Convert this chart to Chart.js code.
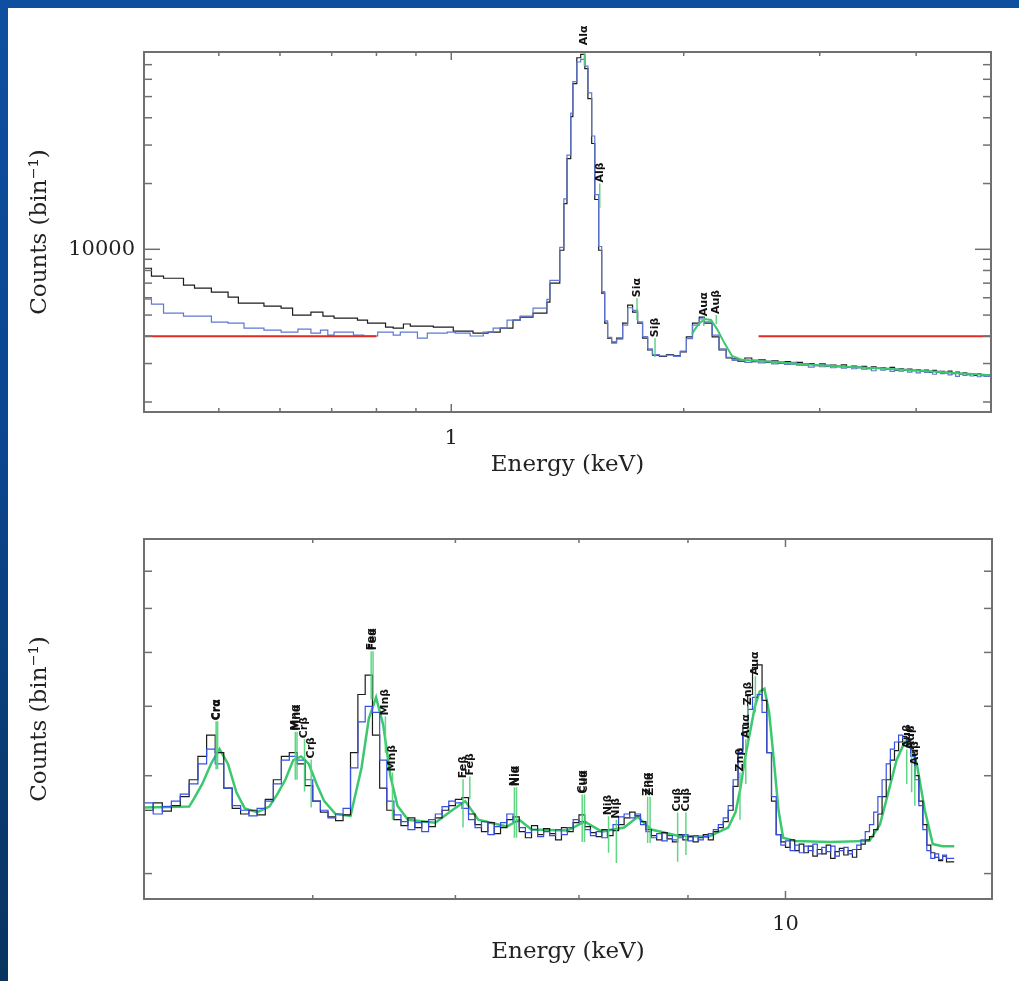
<!DOCTYPE html>
<html>
<head>
<meta charset="utf-8">
<title>Energy spectra</title>
<script src="https://cdn.jsdelivr.net/npm/chart.js@4.4.1/dist/chart.umd.min.js"></script>
<style>
  html, body { margin: 0; padding: 0; }
  body {
    width: 1019px; height: 981px; overflow: hidden; position: relative;
    background: linear-gradient(180deg, #0e4fa0 0%, #0b4690 45%, #08345f 100%);
  }
  #sheet { position: absolute; left: 8px; top: 8px; width: 1011px; height: 973px; background: #fff; }
  canvas { position: absolute; left: 0; }
  #upper { top: 0; }
  #lower { top: 480px; }
</style>
</head>
<body>
<div id="sheet">
  <canvas id="upper" width="1011" height="480"></canvas>
  <canvas id="lower" width="1011" height="493"></canvas>
</div>
<script>
// ---------- upper panel: 0.4 - 5 keV ----------
const upperBlackE = [0.400,0.409,0.424,0.450,0.465,0.489,0.514,0.530,0.572,0.602,
  0.623,0.658,0.682,0.705,0.756,0.779,0.822,0.841,0.867,0.885,
  0.948,1.006,1.067,1.116,1.157,1.202,1.228,1.276,1.330,1.342,
  1.382,1.399,1.412,1.428,1.437,1.454,1.471,1.489,1.503,1.520,
  1.534,1.552,1.566,1.580,1.594,1.613,1.637,1.667,1.692,1.717,
  1.743,1.769,1.796,1.822,1.860,1.900,1.940,1.980,2.016,2.053,
  2.095,2.126,2.177,2.222,2.270,2.311];
const upperBlackC = [8910,8190,7530,7370,6850,6640,6370,6040,5670,5490,
  5380,5000,5160,4940,4840,4740,4590,4400,4360,4550,
  4450,4400,4220,4130,4180,4360,4740,4890,5100,5730,
  7000,9900,16200,26000,40500,57300,75300,78000,67100,48900,
  30500,16900,9900,6300,4590,3920,3760,3920,4590,5550,
  5160,4590,3920,3460,3280,3230,3300,3250,3390,3970,
  4590,4890,4590,3970,3460,3180];

const upperBlueE = [0.400,0.409,0.424,0.450,0.489,0.514,0.539,0.572,0.602,0.633,
  0.658,0.677,0.692,0.705,0.747,0.770,0.803,0.841,0.859,0.904,
  0.931,0.988,1.012,1.058,1.100,1.133,1.181,1.228,1.276,1.330,
  1.342,1.382,1.399,1.412,1.428,1.437,1.454,1.471,1.489,1.503,
  1.520,1.534,1.552,1.566,1.580,1.594,1.613,1.637,1.667,1.692,
  1.717,1.743,1.769,1.796,1.822,1.860,1.900,1.940,1.980,2.016,
  2.053,2.095,2.126,2.177,2.222,2.270,2.311];
const upperBlueC = [6040,5910,5610,5100,4940,4640,4590,4360,4270,4180,
  4310,4130,4270,4050,4180,4050,4010,4180,4050,4180,
  3920,4130,4180,4130,4010,4180,4360,4740,4940,5380,
  5900,7200,10200,17000,27000,42000,58500,72000,74000,69000,
  52000,33000,17800,10300,6400,4700,3950,3720,3880,4500,
  5400,5250,4650,3980,3500,3300,3250,3280,3230,3420,
  3900,4500,4800,4650,4050,3500,3200];

// finer bins above 2.35 keV, shared by both spectra
const upperTailE = [2.35,2.40,2.45,2.50,2.55,2.60,2.65,2.70,2.75,2.80,
  2.85,2.90,2.95,3.00,3.05,3.10,3.15,3.20,3.25,3.30,
  3.35,3.40,3.45,3.50,3.55,3.60,3.65,3.70,3.75,3.80,
  3.85,3.90,3.95,4.00,4.05,4.10,4.15,4.20,4.25,4.30,
  4.35,4.40,4.45,4.50,4.55,4.60,4.65,4.70,4.75,4.80,
  4.85,4.90,4.95];
const upperTailBlack = [3150,3080,3180,3060,3120,3040,3090,3010,3060,2990,
  3040,2960,3000,2930,2990,2920,2950,2900,2960,2880,
  2920,2870,2910,2840,2900,2850,2870,2820,2880,2800,
  2840,2790,2830,2780,2810,2760,2800,2740,2790,2730,
  2760,2720,2770,2700,2740,2690,2720,2670,2700,2650,
  2690,2640,2660];
const upperTailBlue = [3100,3130,3040,3110,3020,3080,2990,3050,2970,3040,
  2950,3000,2890,2960,2900,2950,2870,2930,2860,2900,
  2840,2900,2830,2870,2780,2860,2800,2850,2760,2830,
  2770,2820,2740,2800,2720,2790,2730,2770,2680,2760,
  2700,2740,2660,2720,2620,2700,2650,2690,2630,2680,
  2610,2650,2620];
const upperEnd = 5.0;

const upperModelE = [2.05,2.09,2.13,2.17,2.21,2.26,2.31,2.38,2.50,2.65,2.80,3.00,3.20,3.40,3.60,3.80,4.00,4.20,4.40,4.60,4.80,5.00];
const upperModelC = [4100,4550,4800,4750,4300,3700,3250,3120,3080,3040,2990,2950,2910,2880,2850,2820,2790,2760,2730,2700,2680,2650];

// energy bands ignored in the fit, drawn at a fixed level
const ignoredBands = [[0.4, 0.8], [2.5, 5.0]];
const ignoredLevel = 4000;

const upperLineNames = ['Alα', 'Alβ', 'Siα', 'Siβ', 'Auα', 'Auβ'];
const upperLineE     = [1.487, 1.557, 1.740, 1.836, 2.123, 2.204];
const upperLineTop   = [85000, 20000, 5970, 3920, 4890, 5000];
const upperLineBot   = [69000, 15500, 4740, 3210, 4450, 4550];

const upperXMinor = [0.5, 0.6, 0.7, 0.8, 0.9, 2, 3, 4];
const upperXMajor = [1];
const upperYMinor = [2000, 3000, 4000, 5000, 6000, 7000, 8000, 9000, 20000, 30000, 40000, 50000, 60000, 70000];
const upperYMajor = [10000];

// ---------- lower panel: 5 - 12.5 keV ----------
const lowerE = [5.00,5.05,5.10,5.15,5.20,5.25,5.30,5.35,5.40,5.45,
  5.50,5.55,5.60,5.65,5.70,5.75,5.80,5.85,5.90,5.95,
  6.00,6.05,6.10,6.15,6.20,6.25,6.30,6.35,6.40,6.45,
  6.50,6.55,6.60,6.65,6.70,6.75,6.80,6.85,6.90,6.95,
  7.00,7.05,7.10,7.15,7.20,7.25,7.30,7.35,7.40,7.45,
  7.50,7.55,7.60,7.65,7.70,7.75,7.80,7.85,7.90,7.95,
  8.00,8.05,8.10,8.15,8.20,8.25,8.30,8.35,8.40,8.45,
  8.50,8.55,8.60,8.65,8.70,8.75,8.80,8.85,8.90,8.95,
  9.00,9.05,9.10,9.15,9.20,9.25,9.30,9.35,9.40,9.45,
  9.50,9.55,9.60,9.65,9.70,9.75,9.80,9.85,9.90,9.95,
  10.00,10.05,10.10,10.15,10.20,10.25,10.30,10.35,10.40,10.45,
  10.50,10.55,10.60,10.65,10.70,10.75,10.80,10.85,10.90,10.95,
  11.00,11.05,11.10,11.15,11.20,11.25,11.30,11.35,11.40,11.45,
  11.50,11.55,11.60,11.65,11.70,11.75,11.80,11.85,11.90,11.95];
const lowerBlack = [2640,2600,2680,2590,2650,2750,2950,3250,3550,3300,
  2850,2620,2560,2600,2550,2720,2950,3250,3300,3150,
  2880,2700,2580,2530,2490,2550,3300,4200,4550,3550,
  2850,2600,2500,2440,2520,2420,2480,2430,2520,2600,
  2650,2720,2740,2560,2450,2380,2470,2360,2420,2500,
  2530,2380,2320,2440,2350,2410,2360,2300,2420,2380,
  2470,2550,2430,2370,2330,2400,2340,2390,2450,2520,
  2580,2540,2480,2400,2340,2300,2370,2310,2280,2350,
  2300,2330,2280,2320,2350,2300,2380,2420,2480,2600,
  2870,3350,3700,4200,4700,4750,4100,3300,2700,2350,
  2280,2230,2300,2200,2260,2180,2240,2150,2210,2170,
  2250,2130,2190,2220,2160,2200,2140,2210,2260,2300,
  2330,2400,2560,2750,2950,3200,3330,3450,3530,3480,
  3300,3000,2700,2450,2250,2180,2140,2110,2150,2100];
const lowerBlue = [2600,2680,2560,2640,2700,2780,2900,3150,3350,3150,
  2850,2650,2600,2540,2620,2700,2900,3200,3250,3200,
  2950,2700,2600,2520,2560,2620,3100,3750,4000,3900,
  3200,2700,2550,2480,2400,2470,2380,2500,2560,2640,
  2700,2680,2620,2500,2420,2480,2350,2430,2470,2560,
  2480,2420,2370,2400,2330,2380,2340,2400,2350,2420,
  2500,2480,2400,2340,2380,2320,2400,2450,2530,2560,
  2520,2560,2450,2380,2320,2360,2290,2340,2300,2320,
  2350,2290,2340,2300,2330,2360,2400,2450,2520,2650,
  2950,3300,3600,3950,4150,4200,3900,3300,2750,2350,
  2250,2290,2200,2250,2180,2240,2200,2260,2170,2230,
  2190,2240,2150,2200,2230,2170,2210,2250,2300,2380,
  2450,2580,2750,2950,3150,3350,3450,3550,3500,3380,
  3250,2950,2650,2400,2200,2130,2170,2120,2160,2130];
const lowerEnd = 12.0;

// fitted model, drawn beneath the two spectra
const lowerModelE = [5.00,5.25,5.275,5.325,5.375,5.425,5.475,5.525,5.575,5.65,
  5.725,5.775,5.825,5.875,5.925,5.975,6.025,6.075,6.15,6.25,
  6.325,6.375,6.425,6.475,6.525,6.575,6.65,6.85,6.975,7.075,
  7.175,7.40,7.50,7.60,7.90,8.05,8.20,8.40,8.525,8.65,
  8.90,9.20,9.40,9.475,9.525,9.575,9.625,9.675,9.725,9.775,
  9.825,9.875,9.925,9.975,10.10,10.50,10.95,11.075,11.175,11.275,
  11.375,11.425,11.525,11.625,11.725,11.85,12.00];
const lowerModelC = [2630,2640,2720,2900,3150,3350,3150,2800,2620,2580,
  2640,2780,2950,3200,3250,3150,2900,2700,2560,2540,
  3100,3800,4150,3700,3000,2650,2500,2470,2600,2700,
  2500,2430,2500,2400,2390,2480,2380,2420,2530,2400,
  2340,2330,2420,2580,2850,3250,3600,4000,4250,4300,
  3900,3200,2600,2320,2290,2280,2290,2450,2800,3200,
  3450,3480,3150,2600,2260,2240,2240];

const lowerLineNames = ['Crα','Crα','Mnα','Mnα','Crβ','Crβ','Feα','Feα','Mnβ','Mnβ','Feβ','Feβ','Niα','Niα',
  'Cuα','Cuα','Niβ','Niβ','Znα','Znα','Cuβ','Cuβ','Znβ','Auα','Znβ','Auα','Auβ','Auβ','Auβ'];
const lowerLineE   = [5.405,5.414,5.888,5.899,5.947,5.99,6.391,6.404,6.490,6.54,7.058,7.11,7.461,7.478,
  8.028,8.048,8.26,8.33,8.616,8.639,8.90,8.98,9.52,9.58,9.60,9.68,11.40,11.46,11.50];
const lowerLineTop = [3760,3760,3600,3600,3490,3210,5025,5025,3835,3040,2955,2990,2860,2860,
  2775,2775,2535,2500,2750,2750,2575,2575,3040,3490,4000,4530,3345,3330,3120];
const lowerLineBot = [3080,3080,2950,2950,2810,2630,4115,4115,3300,2500,2420,2720,2320,2320,
  2280,2280,2180,2090,2270,2270,2100,2160,2500,2900,3400,3900,2900,2800,2650];

const lowerXMinor = [6, 7, 8, 9];
const lowerXMajor = [10];
const lowerYMinor = [2000, 3000, 4000, 5000, 6000, 7000];
const lowerYMajor = [];

// ---------- helpers ----------
const tickFont = { family: '"DejaVu Serif", serif', size: 21 };
const titleFont = { family: '"DejaVu Serif", serif', size: 23 };
const inkColor = '#222';

function stepPoints(edges, counts, endEdge) {
  const pts = edges.map((e, i) => ({ x: e, y: counts[i] }));
  pts.push({ x: endEdge, y: counts[counts.length - 1] });
  return pts;
}

function linePoints(xs, ys) {
  return xs.map((e, i) => ({ x: e, y: ys[i] }));
}

function spikePoints(energies, tops, bottoms) {
  const pts = [];
  energies.forEach((e, i) => {
    pts.push({ x: e, y: tops[i] }, { x: e, y: bottoms[i] }, { x: e, y: null });
  });
  return pts;
}

function bandPoints(bands, level) {
  const pts = [];
  bands.forEach(([a, b]) => {
    pts.push({ x: a, y: level }, { x: b, y: level }, { x: b, y: null });
  });
  return pts;
}

// box around the plot with inward ticks on all four sides
function frameTicksPlugin(t) {
  return {
    id: 'frameTicks',
    afterDatasetsDraw(chart) {
      const { ctx, chartArea: a, scales: { x, y } } = chart;
      ctx.save();
      ctx.strokeStyle = '#707070';
      ctx.lineWidth = 1.5;
      const seg = (x0, y0, x1, y1) => { ctx.beginPath(); ctx.moveTo(x0, y0); ctx.lineTo(x1, y1); ctx.stroke(); };
      const xt = (vals, len) => vals.forEach(v => {
        const px = x.getPixelForValue(v);
        seg(px, a.bottom, px, a.bottom - len);
        seg(px, a.top, px, a.top + len);
      });
      const yt = (vals, len) => vals.forEach(v => {
        const py = y.getPixelForValue(v);
        seg(a.left, py, a.left + len, py);
        seg(a.right, py, a.right - len, py);
      });
      xt(t.xMinor, 4); xt(t.xMajor, 8);
      yt(t.yMinor, 8); yt(t.yMajor, 16);
      ctx.lineWidth = 2;
      ctx.strokeRect(a.left, a.top, a.right - a.left, a.bottom - a.top);
      ctx.restore();
    }
  };
}

// vertical line identifications
function lineLabelPlugin(names, energies, tops) {
  return {
    id: 'lineLabels',
    afterDatasetsDraw(chart) {
      const { ctx, scales: { x, y } } = chart;
      ctx.save();
      ctx.fillStyle = '#111';
      ctx.font = 'bold 11px "DejaVu Sans", sans-serif';
      ctx.textAlign = 'left';
      ctx.textBaseline = 'middle';
      names.forEach((name, i) => {
        ctx.save();
        ctx.translate(x.getPixelForValue(energies[i]), y.getPixelForValue(tops[i]) - 1);
        ctx.rotate(-Math.PI / 2);
        ctx.fillText(name, 0, 0);
        ctx.restore();
      });
      ctx.restore();
    }
  };
}

function histo(label, data, color, width, order) {
  return { label, data, borderColor: color, borderWidth: width, stepped: 'after',
           pointRadius: 0, fill: false, order };
}

function curve(label, data, color, width, order) {
  return { label, data, borderColor: color, borderWidth: width, pointRadius: 0,
           fill: false, spanGaps: false, tension: 0, order };
}

function makeChart(el, cfg) {
  return new Chart(el, {
    type: 'line',
    data: { datasets: cfg.datasets },
    options: {
      responsive: false,
      animation: false,
      events: [],
      layout: { padding: cfg.padding },
      plugins: { legend: { display: false }, tooltip: { enabled: false } },
      scales: {
        x: {
          type: 'logarithmic', min: cfg.xMin, max: cfg.xMax,
          grid: { display: false, drawTicks: false }, border: { display: false },
          afterBuildTicks: s => { s.ticks = cfg.xLabels.map(v => ({ value: v })); },
          ticks: { font: tickFont, color: inkColor, padding: cfg.xTickPad, maxRotation: 0, autoSkip: false,
                   callback: v => String(v) },
          title: { display: true, text: 'Energy (keV)', font: titleFont, color: inkColor, padding: 0 },
          afterFit: s => { s.height = cfg.xAxisHeight; }
        },
        y: {
          type: 'logarithmic', min: cfg.yMin, max: cfg.yMax,
          grid: { display: false, drawTicks: false }, border: { display: false },
          afterBuildTicks: s => { s.ticks = cfg.yLabels.map(v => ({ value: v })); },
          ticks: { display: cfg.yLabels.length > 0, font: tickFont, color: inkColor, padding: 9,
                   callback: v => String(v) },
          title: { display: true, text: 'Counts (bin⁻¹)', font: titleFont, color: inkColor, padding: 0 },
          afterFit: s => { s.width = 118; }
        }
      }
    },
    plugins: [frameTicksPlugin(cfg.ticks), lineLabelPlugin(cfg.lineNames, cfg.lineE, cfg.lineTop)]
  });
}

const green = 'rgb(60,200,110)';
const spikeGreen = 'rgba(80,210,120,0.9)';

makeChart(document.getElementById('upper'), {
  xMin: 0.4, xMax: 5, yMin: 1800, yMax: 80000,
  xLabels: [1], yLabels: [10000],
  padding: { left: 18, right: 28, top: 44, bottom: 9 },
  xAxisHeight: 67, xTickPad: 14,
  ticks: { xMinor: upperXMinor, xMajor: upperXMajor, yMinor: upperYMinor, yMajor: upperYMajor },
  lineNames: upperLineNames, lineE: upperLineE, lineTop: upperLineTop,
  datasets: [
    curve('ignored', bandPoints(ignoredBands, ignoredLevel), 'rgb(225,45,35)', 2, 0),
    curve('lines', spikePoints(upperLineE, upperLineTop, upperLineBot), spikeGreen, 1.5, 1),
    curve('model', linePoints(upperModelE, upperModelC), green, 2, 2),
    histo('blue', stepPoints(upperBlueE.concat(upperTailE), upperBlueC.concat(upperTailBlue), upperEnd), 'rgb(95,120,210)', 1.2, 3),
    histo('black', stepPoints(upperBlackE.concat(upperTailE), upperBlackC.concat(upperTailBlack), upperEnd), '#1c1c1c', 1.2, 4)
  ]
});

makeChart(document.getElementById('lower'), {
  xMin: 5, xMax: 12.5, yMin: 1800, yMax: 8000,
  xLabels: [10], yLabels: [],
  padding: { left: 18, right: 27, top: 51, bottom: 15 },
  xAxisHeight: 67, xTickPad: 13,
  ticks: { xMinor: lowerXMinor, xMajor: lowerXMajor, yMinor: lowerYMinor, yMajor: lowerYMajor },
  lineNames: lowerLineNames, lineE: lowerLineE, lineTop: lowerLineTop,
  datasets: [
    curve('lines', spikePoints(lowerLineE, lowerLineTop, lowerLineBot), spikeGreen, 1.5, 0),
    histo('blue', stepPoints(lowerE, lowerBlue, lowerEnd), 'rgb(55,80,225)', 1.2, 1),
    histo('black', stepPoints(lowerE, lowerBlack, lowerEnd), '#1c1c1c', 1.2, 2),
    curve('model', linePoints(lowerModelE, lowerModelC), green, 2.5, 3)
  ]
});
</script>
</body>
</html>
